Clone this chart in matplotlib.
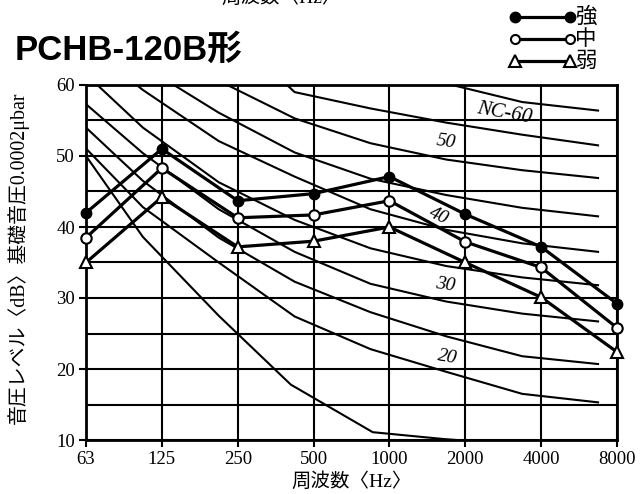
import matplotlib
matplotlib.use("Agg")
import matplotlib.pyplot as plt
from matplotlib.lines import Line2D

# ---------------- data ----------------
freq_labels = ['63', '125', '250', '500', '1000', '2000', '4000', '8000']
strong = [42.0, 51.0, 43.7, 44.7, 47.1, 41.8, 37.2, 29.2]   # 強
medium = [38.5, 48.3, 41.3, 41.7, 43.7, 37.9, 34.3, 25.8]   # 中
weak   = [35.0, 44.2, 37.2, 38.0, 40.0, 35.0, 30.1, 22.4]   # 弱

# NC curves, vertices drawn a quarter octave below each band line
nc_x = [-0.25, 0.75, 1.75, 2.75, 3.75, 4.75, 5.75, 6.75]
nc20 = [53.8, 42.8, 35.0, 27.4, 22.8, 19.6, 16.5, 15.3]
nc25 = [56.5, 46.5, 38.5, 32.3, 28.0, 24.6, 21.8, 20.7]
nc30 = [59.6, 50.4, 42.5, 36.5, 32.0, 29.5, 27.8, 26.7]
nc35 = [64.0, 54.0, 46.3, 41.0, 37.0, 34.5, 32.9, 31.8]
nc40 = [67.8, 59.3, 52.1, 47.1, 42.5, 39.6, 37.7, 36.5]
nc45 = [70.0, 62.7, 56.1, 50.5, 46.8, 44.5, 42.7, 41.5]
nc50 = [75.0, 67.0, 60.6, 55.3, 51.8, 49.5, 48.0, 46.9]
nc55 = [80.0, 75.0, 69.0, 59.0, 56.7, 54.7, 53.0, 51.5]
nc60 = [82.0, 76.0, 70.0, 65.0, 62.3, 60.2, 57.6, 56.4]
nc_curves = [nc20, nc25, nc30, nc35, nc40, nc45, nc50, nc55, nc60]

low_x = [0, 0.75, 1.75, 2.7, 3.78, 4.7, 5.5]
low_y = [50.0, 38.6, 27.5, 17.8, 11.1, 10.15, 9.5]

y_ticks = [10, 20, 30, 40, 50, 60]

# ---------------- figure ----------------
SERIF = ['Liberation Serif', 'Noto Sans CJK JP']
JP = ['Noto Sans CJK JP', 'DejaVu Sans']

fig = plt.figure(figsize=(6.4, 4.94), dpi=100)
ax = fig.add_axes([86/640, 1-440/494, (617-86)/640, (440-85)/494])

ax.set_xlim(0, 7)
ax.set_ylim(10, 60)

# grid
for y in range(10, 61, 5):
    ax.axhline(y, color='black', lw=1.5, zorder=1)
for x in range(8):
    ax.axvline(x, color='black', lw=1.5, zorder=1)

# NC curves
for c in nc_curves:
    ax.plot(nc_x, c, color='black', lw=1.5, zorder=2)
ax.plot(low_x, low_y, color='black', lw=1.5, zorder=2)

xs = list(range(len(freq_labels)))
ax.plot(xs, strong, color='black', lw=2.3, marker='o', ms=7.5,
        mfc='black', mec='black', zorder=4, clip_on=False)
ax.plot(xs, medium, color='black', lw=2.3, marker='o', ms=7.5,
        mfc='white', mec='black', mew=1.5, zorder=4, clip_on=False)
ax.plot(xs, weak, color='black', lw=2.3, marker='^', ms=9,
        mfc='white', mec='black', mew=1.5, zorder=4, clip_on=False)

# NC labels
ax.text(5.52, 56.0, 'NC-60', fontsize=15, fontstyle='italic', family=SERIF,
        rotation=-10, ha='center', va='center', zorder=3)
ax.text(4.74, 52.0, '50', fontsize=14, fontstyle='italic', family=SERIF,
        rotation=-8, ha='center', va='center', zorder=3)
ax.text(4.65, 41.6, '40', fontsize=14, fontstyle='italic', family=SERIF,
        rotation=-25, ha='center', va='center', zorder=3)
ax.text(4.74, 31.8, '30', fontsize=14, fontstyle='italic', family=SERIF,
        rotation=-8, ha='center', va='center', zorder=3)
ax.text(4.76, 21.6, '20', fontsize=14, fontstyle='italic', family=SERIF,
        rotation=-10, ha='center', va='center', zorder=3)

# axes styling
for s in ax.spines.values():
    s.set_linewidth(2)
ax.set_xticks(xs)
ax.set_xticklabels(freq_labels, family=SERIF, fontsize=13.5)
ax.set_yticks(y_ticks)
ax.set_yticklabels([str(v) for v in y_ticks], family=SERIF, fontsize=13.5)
ax.tick_params(length=5, width=1.5, direction='out', pad=3)

ax.set_xlabel('周波数〈Hz〉', family=SERIF, fontsize=14, labelpad=3)
fig.text(18/640, 1-258/494, '音圧レベル〈dB〉基礎音圧0.0002μbar', family=SERIF,
         fontsize=14.3, rotation=90, ha='center', va='center')

# title
fig.text(15/640, 1-50/494, 'PCHB-120B形', family=['Liberation Sans', 'Noto Sans CJK JP'],
         fontsize=25, fontweight='bold', ha='left', va='center')
# cut-off text at top (continuation of the chart above)
fig.text(282/640, 1+3/494, '周波数〈Hz〉', family=SERIF, fontsize=14,
         ha='center', va='center')

# legend drawn manually
leg_y = [17, 39, 61]
leg_style = [dict(marker='o', ms=7.5, mfc='black', mec='black'),
             dict(marker='o', ms=6.5, mfc='white', mec='black', mew=1.5),
             dict(marker='^', ms=9, mfc='white', mec='black', mew=1.5)]
leg_text = ['強', '中', '弱']
for yy, st, tx in zip(leg_y, leg_style, leg_text):
    fy = 1 - yy/494
    fig.add_artist(Line2D([515/640, 570/640], [fy, fy], transform=fig.transFigure,
                          color='black', lw=2.3, **st))
    fig.text(575/640, fy, tx, family=JP, fontsize=15.5, ha='left', va='center')

fig.savefig('out.png', dpi=100)
